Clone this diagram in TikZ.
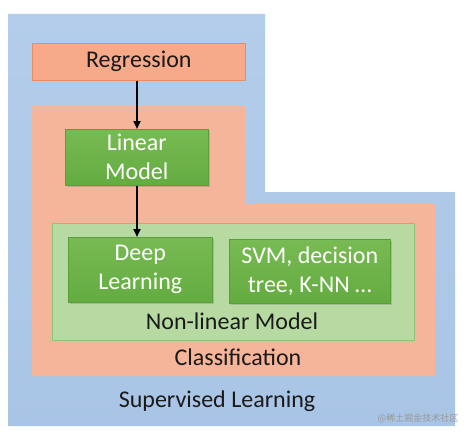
\documentclass[tikz,border=0pt]{standalone}
\usepackage{fontspec}
\setmainfont{Carlito}
\newfontfamily\cjk{Noto Sans CJK SC}
\usetikzlibrary{arrows.meta,shadows}
\definecolor{bluebg}{HTML}{A9C5E6}
\definecolor{bluebgtop}{HTML}{B3CDEA}
\definecolor{salmon}{HTML}{F5B59A}
\definecolor{regfill}{HTML}{F6AA8A}
\definecolor{regborder}{HTML}{E98C66}
\definecolor{greenbox}{HTML}{63AC40}
\definecolor{greenboxtop}{HTML}{78BA53}
\definecolor{greenborder}{HTML}{5C9E3C}
\definecolor{lightgreen}{HTML}{B7DAA3}
\definecolor{lgborder}{HTML}{8EC474}
\definecolor{txt}{HTML}{1A1A1A}
\tikzset{
  gbox/.style={draw=greenborder, line width=0.6pt, top color=greenboxtop, bottom color=greenbox,
    text=white, align=center, font=\fontsize{24}{29}\selectfont, inner sep=0pt,
    drop shadow={shadow xshift=1.5pt, shadow yshift=-1.5pt, opacity=0.35}},
  lbl/.style={text=txt, font=\fontsize{24}{29}\selectfont, inner sep=0pt},
  arr/.style={line width=2pt, -{Triangle[length=8pt,width=7pt]}, black}
}
\begin{document}
\begin{tikzpicture}[x=1pt,y=-1pt]
\useasboundingbox (0,0) rectangle (474,436);
\fill[white] (0,0) rectangle (474,436);
% blue supervised shape
\shade[top color=bluebgtop, bottom color=bluebg] (8,14) -- (265,14) -- (265,192) -- (455,192) -- (455,426) -- (8,426) -- cycle;
% salmon classification shape
\fill[salmon] (32,106) -- (245,106) -- (245,204) -- (435,204) -- (435,376) -- (32,376) -- cycle;
% regression box
\node[draw=regborder, fill=regfill, line width=0.6pt, minimum width=213pt, minimum height=37pt,
  lbl, anchor=north west] (reg) at (32,43) {Regression};
% non-linear box
\node[draw=lgborder, fill=lightgreen, line width=0.6pt, minimum width=362pt, minimum height=117pt,
  anchor=north west, inner sep=0pt] (nonlin) at (52,223) {};
\node[lbl] (nonlinlbl) at (232,321) {Non-linear Model};
% linear model
\node[gbox, minimum width=143pt, minimum height=56pt, anchor=north west] (lin) at (65,129) {Linear\\Model};
% deep learning
\node[gbox, minimum width=144pt, minimum height=65pt, anchor=north west] (deep) at (68,237) {Deep\\Learning};
% svm
\node[gbox, minimum width=161pt, minimum height=64pt, anchor=north west] (svm) at (229,239) {SVM, decision\\tree, K-NN \dots};
% labels
\node[lbl] (cls) at (238,357) {Classification};
\node[lbl] (sup) at (217,401) {Supervised Learning};
\node[text=black!40, font=\cjk\fontsize{9}{10}\selectfont, inner sep=0pt] (wm) at (418,418) {@稀土掘金技术社区};
% arrows
\draw[arr] (reg.south -| 137,0) -- (lin.north -| 137,0);
\draw[arr] (lin.south -| 137,0) -- (deep.north -| 137,0);
\end{tikzpicture}
\end{document}
